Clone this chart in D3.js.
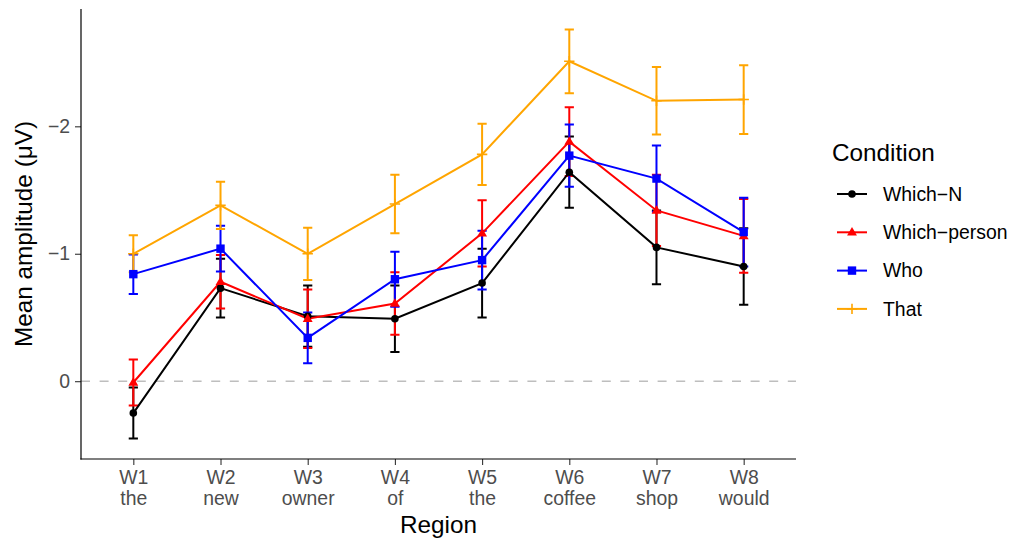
<!DOCTYPE html>
<html>
<head>
<meta charset="utf-8">
<script src="https://cdn.jsdelivr.net/npm/d3@7"></script>
<style>
  html, body { margin: 0; padding: 0; background: #fff; }
  svg { display: block; font-family: "Liberation Sans", Arial, Helvetica, sans-serif; }
</style>
</head>
<body>
<svg id="chart" width="1012" height="541"></svg>
<script>
// Regions (word positions) of the sentence
const regions = ["W1", "W2", "W3", "W4", "W5", "W6", "W7", "W8"];
const words = ["the", "new", "owner", "of", "the", "coffee", "shop", "would"];

// Condition labels and colours
const conditions = ["Which\u2212N", "Which\u2212person", "Who", "That"];
const colours = ["#000000", "#FF0000", "#0000FF", "#FFA500"];
const shapes = ["circle", "triangle", "square", "plus"];

// Mean amplitude (µV) per region, one array per condition
const whichN      = [0.25, -0.73, -0.51, -0.49, -0.77, -1.64, -1.05, -0.90];
const whichPerson = [0.01, -0.78, -0.49, -0.61, -1.16, -1.88, -1.34, -1.14];
const who         = [-0.84, -1.04, -0.34, -0.80, -0.95, -1.77, -1.59, -1.17];
const that        = [-1.00, -1.38, -1.00, -1.39, -1.78, -2.51, -2.20, -2.21];

// Standard errors per region
const seWhichN      = [0.20, 0.23, 0.24, 0.26, 0.27, 0.28, 0.29, 0.30];
const seWhichPerson = [0.18, 0.21, 0.23, 0.245, 0.26, 0.27, 0.28, 0.29];
const seWho         = [0.155, 0.18, 0.20, 0.215, 0.23, 0.245, 0.26, 0.27];
const seThat        = [0.145, 0.185, 0.205, 0.23, 0.24, 0.25, 0.265, 0.27];

// Y tick values
const yTicks = [-2, -1, 0];

const means = [whichN, whichPerson, who, that];
const ses = [seWhichN, seWhichPerson, seWho, seThat];

const series = conditions.map((name, i) => ({
  name, colour: colours[i], shape: shapes[i],
  values: regions.map((r, j) => ({ region: r, mean: means[i][j], se: ses[i][j] }))
}));

const svg = d3.select("#chart");
const panel = { left: 81, right: 796, top: 9, bottom: 459 };

const x = d3.scalePoint().domain(regions).range([panel.left, panel.right]).padding(0.6);

// data extent incl. error bars, expanded 5% each side; axis reversed (negative up)
const lo = d3.min(series, s => d3.min(s.values, d => d.mean - d.se));
const hi = d3.max(series, s => d3.max(s.values, d => d.mean + d.se));
const pad = (hi - lo) * 0.05;
const y = d3.scaleLinear().domain([lo - pad, hi + pad]).range([panel.top, panel.bottom]);

const fmt = v => (v < 0 ? "\u2212" : "") + Math.abs(v);

// zero reference line
svg.append("line")
  .attr("x1", panel.left).attr("x2", panel.right)
  .attr("y1", y(0)).attr("y2", y(0))
  .attr("stroke", "#BEBEBE").attr("stroke-width", 1.6)
  .attr("stroke-dasharray", "9,9.6");

// axes
const yAxis = svg.append("g").attr("transform", `translate(${panel.left},0)`)
  .call(d3.axisLeft(y).tickValues(yTicks).tickFormat(fmt).tickSize(6).tickPadding(5));
const xAxis = svg.append("g").attr("transform", `translate(0,${panel.bottom})`)
  .call(d3.axisBottom(x).tickSize(6).tickFormat(() => ""));

[yAxis, xAxis].forEach(g => {
  g.select(".domain").remove();
  g.selectAll(".tick line").attr("stroke", "#333333").attr("stroke-width", 1.1);
});
yAxis.selectAll(".tick text")
  .attr("fill", "#4D4D4D").style("font-size", "19.4px");

// two-line region labels
xAxis.selectAll(".tick").each(function (d, i) {
  const t = d3.select(this).select("text")
    .attr("fill", "#4D4D4D").style("font-size", "19.4px")
    .attr("dy", null).attr("y", 0);
  t.append("tspan").attr("x", 0).attr("y", 25).text(d);
  t.append("tspan").attr("x", 0).attr("y", 46).text(words[i]);
});

// axis lines
svg.append("line").attr("x1", panel.left).attr("x2", panel.left)
  .attr("y1", panel.top).attr("y2", panel.bottom + 0.6)
  .attr("stroke", "#000").attr("stroke-width", 1.2);
svg.append("line").attr("x1", panel.left - 0.6).attr("x2", panel.right)
  .attr("y1", panel.bottom).attr("y2", panel.bottom)
  .attr("stroke", "#000").attr("stroke-width", 1.2);

// axis titles
svg.append("text").attr("x", (panel.left + panel.right) / 2).attr("y", 533)
  .attr("text-anchor", "middle").style("font-size", "24.3px").attr("fill", "#000")
  .text("Region");
svg.append("text")
  .attr("transform", `translate(32,${(panel.top + panel.bottom) / 2}) rotate(-90)`)
  .attr("text-anchor", "middle").style("font-size", "24.3px").attr("fill", "#000")
  .text("Mean amplitude (\u03BCV)");

// marker drawing
function marker(g, shape, colour, cx, cy) {
  if (shape === "circle") {
    g.append("circle").attr("cx", cx).attr("cy", cy).attr("r", 3.8).attr("fill", colour);
  } else if (shape === "square") {
    g.append("rect").attr("x", cx - 4.2).attr("y", cy - 4.2)
      .attr("width", 8.4).attr("height", 8.4).attr("fill", colour);
  } else if (shape === "triangle") {
    const r = 5.2;
    g.append("path").attr("fill", colour)
      .attr("d", `M${cx},${cy - r} L${cx + r * 0.95},${cy + r * 0.62} L${cx - r * 0.95},${cy + r * 0.62} Z`);
  } else {
    const r = 5.2;
    g.append("path").attr("stroke", colour).attr("stroke-width", 1.6).attr("fill", "none")
      .attr("d", `M${cx - r},${cy} H${cx + r} M${cx},${cy - r} V${cy + r}`);
  }
}

const capHalf = 4.6;
const plot = svg.append("g");

// error bars
series.forEach(s => {
  const g = plot.append("g").attr("stroke", s.colour).attr("stroke-width", 2).attr("fill", "none");
  s.values.forEach(d => {
    const cx = x(d.region), y1 = y(d.mean - d.se), y2 = y(d.mean + d.se);
    g.append("path").attr("d",
      `M${cx - capHalf},${y1} H${cx + capHalf} M${cx},${y1} V${y2} M${cx - capHalf},${y2} H${cx + capHalf}`);
  });
});

// lines
const line = d3.line().x(d => x(d.region)).y(d => y(d.mean));
series.forEach(s => {
  plot.append("path").datum(s.values).attr("d", line)
    .attr("fill", "none").attr("stroke", s.colour).attr("stroke-width", 2);
});

// points
series.forEach(s => {
  const g = plot.append("g");
  s.values.forEach(d => marker(g, s.shape, s.colour, x(d.region), y(d.mean)));
});

// legend
const legend = svg.append("g");
legend.append("text").attr("x", 832).attr("y", 161).style("font-size", "24.3px")
  .attr("fill", "#000").text("Condition");
series.forEach((s, i) => {
  const ky = 194 + i * 38.3;
  legend.append("line").attr("x1", 837).attr("x2", 867).attr("y1", ky).attr("y2", ky)
    .attr("stroke", s.colour).attr("stroke-width", 2);
  marker(legend, s.shape, s.colour, 852, ky);
  legend.append("text").attr("x", 883).attr("y", ky).attr("dy", "0.35em")
    .style("font-size", "19.4px").attr("fill", "#000").text(s.name);
});
</script>
</body>
</html>
